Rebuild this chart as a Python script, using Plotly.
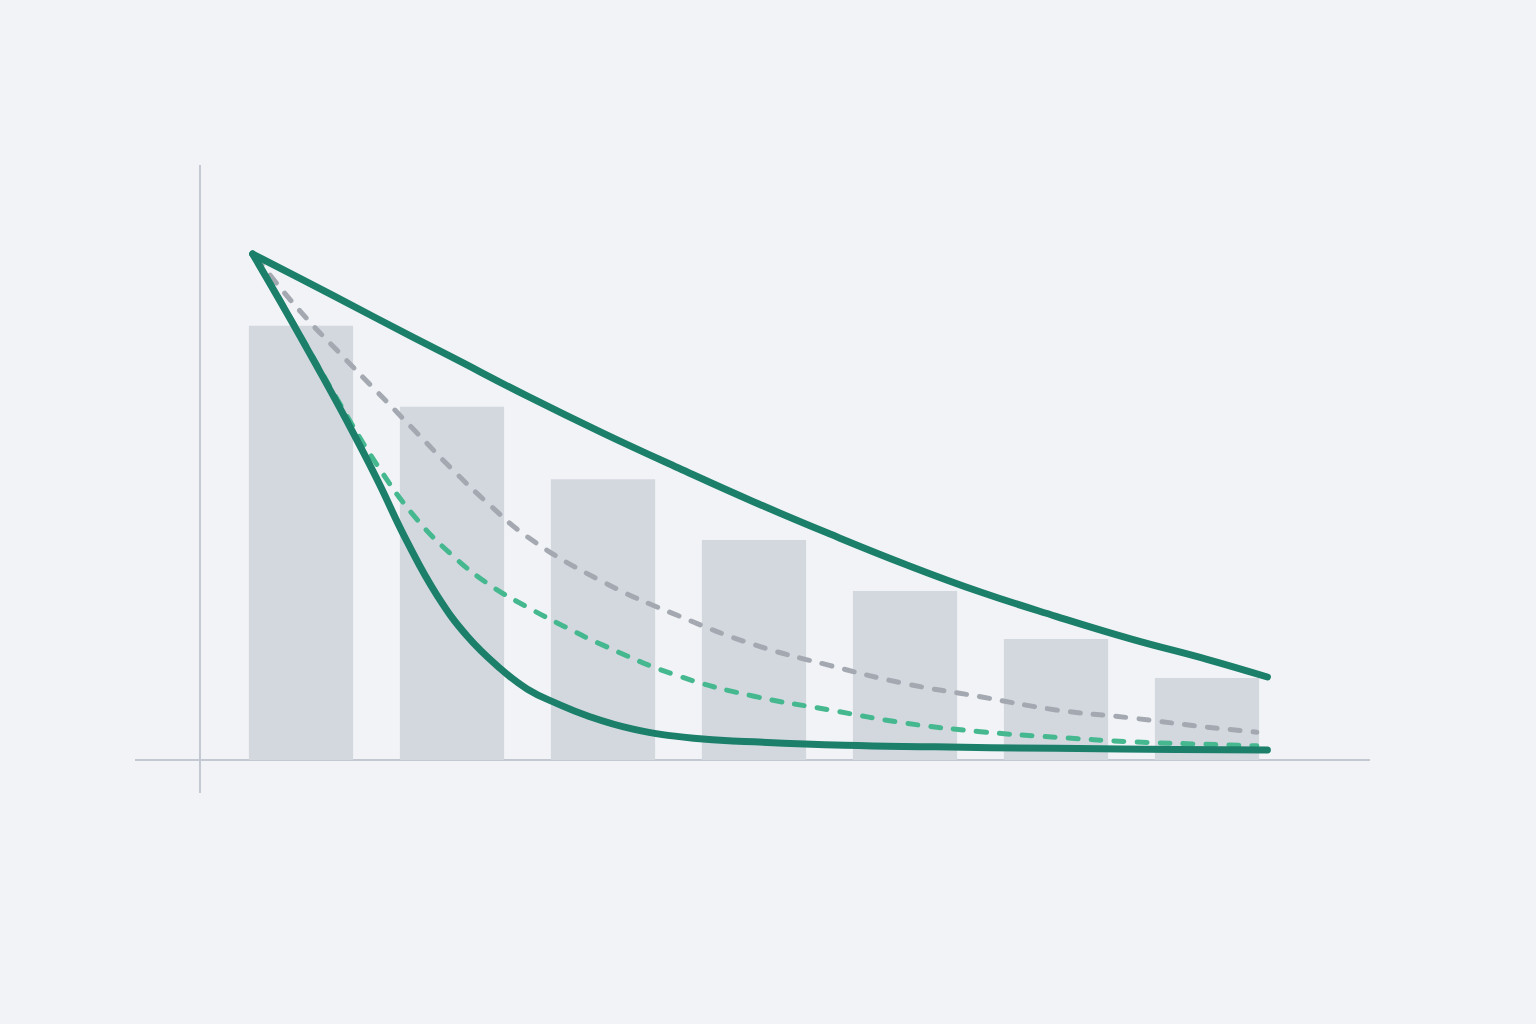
import plotly.graph_objects as go

# bars (7 periods)
bar_x = [1, 2, 3, 4, 5, 6, 7]
bar_vals = [85.8, 69.8, 55.5, 43.5, 33.4, 23.9, 16.2]

# upper solid curve
upper_x = [0.68, 1.0, 1.5, 2.0, 2.5, 3.0, 3.5, 4.0, 4.5, 5.0, 5.5, 6.0, 6.5, 7.0, 7.4]
upper_y = [100.0, 95.1, 87.3, 79.6, 71.9, 64.6, 57.7, 51.0, 44.7, 38.7, 33.2, 28.4, 23.9, 19.9, 16.4]

# lower solid curve (steep drop then flat)
lower_x = [0.68, 0.9, 1.1, 1.3, 1.5, 1.7, 1.9, 2.1, 2.3, 2.5, 2.7, 2.9, 3.2, 3.6,
           4.0, 4.6, 5.2, 6.0, 6.8, 7.4]
lower_y = [100.0, 88.7, 78.1, 67.2, 55.7, 43.3, 32.6, 24.5, 18.6, 14.0, 11.1, 8.7, 6.1, 4.3,
           3.6, 2.9, 2.6, 2.3, 2.1, 2.0]

# gray dashed curve
gray_x = [0.70, 1.0, 1.25, 1.5, 1.75, 2.0, 2.25, 2.5, 3.0, 3.5, 4.0, 4.5, 5.0, 5.5, 6.0,
          6.5, 7.0, 7.33]
gray_y = [99.4, 88.5, 80.6, 72.9, 65.2, 57.5, 50.4, 44.1, 35.2, 28.5, 22.8, 18.7, 15.1, 12.5,
          9.9, 8.3, 6.5, 5.5]

# green dashed curve
green_x = [0.70, 1.0, 1.25, 1.5, 1.75, 2.0, 2.25, 2.5, 2.75, 3.0, 3.5, 4.0, 4.5, 5.0,
           5.5, 6.0, 6.5, 7.0, 7.33]
green_y = [99.4, 83.8, 70.8, 58.5, 48.2, 40.5, 34.6, 30.2, 26.3, 22.7, 16.6, 12.6, 9.9, 7.3,
           5.6, 4.5, 3.6, 3.1, 2.8]

BG = "#F1F3F6"
DARK = "#1B7F6A"

fig = go.Figure()
fig.add_trace(go.Bar(x=bar_x, y=bar_vals, width=0.69, marker_color="#D3D8DF",
                     marker_line_width=0))
fig.add_trace(go.Scatter(x=gray_x, y=gray_y, mode="lines",
                         line=dict(color="#A4A9B1", width=5, dash="10px,13px",
                                   shape="spline", smoothing=1.3)))
fig.add_trace(go.Scatter(x=green_x, y=green_y, mode="lines",
                         line=dict(color="#45B88F", width=5, dash="10px,13px",
                                   shape="spline", smoothing=1.3)))
fig.add_trace(go.Scatter(x=lower_x, y=lower_y, mode="lines",
                         line=dict(color=DARK, width=7, shape="spline", smoothing=1.3)))
fig.add_trace(go.Scatter(x=upper_x, y=upper_y, mode="lines",
                         line=dict(color=DARK, width=7, shape="spline", smoothing=1.3)))

# cross-style axis lines
fig.add_shape(type="line", xref="x", yref="paper", x0=0.331, x1=0.331, y0=0, y1=1,
              line=dict(color="#C3C8D2", width=2), layer="below")
fig.add_shape(type="line", xref="paper", yref="y", x0=0, x1=1, y0=0, y1=0,
              line=dict(color="#C3C8D2", width=2), layer="below")

fig.update_layout(
    width=1536, height=1024,
    paper_bgcolor=BG, plot_bgcolor=BG,
    margin=dict(l=135, r=166, t=165, b=231),
    showlegend=False,
    hovermode=False,
    xaxis=dict(range=[-0.0993, 8.0795], visible=False, fixedrange=True),
    yaxis=dict(range=[-6.52, 117.59], visible=False, fixedrange=True),
)

# drop the page margin and round the line ends
js = ("document.body.style.margin='0';"
      "document.body.style.background='" + BG + "';"
      "document.querySelectorAll('.scatterlayer .js-line').forEach(function(p){"
      "p.style.strokeLinecap='round';});")
fig.write_html("out.html", post_script=js, config={"displayModeBar": False})
